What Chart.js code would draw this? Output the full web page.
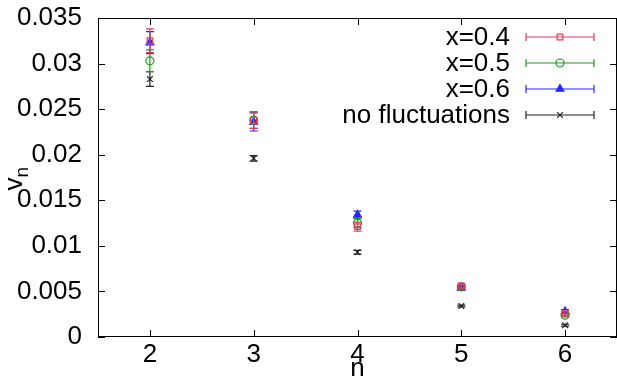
<!DOCTYPE html>
<html>
<head>
<meta charset="utf-8">
<script src="https://cdn.jsdelivr.net/npm/chart.js@4"></script>
<style>
  body { margin: 0; background: #fff; }
  #wrap { width: 617px; height: 380px; }
</style>
</head>
<body>
<div id="wrap"><canvas id="vn"></canvas></div>
<script>
const harmonics = [2, 3, 4, 5, 6];
const yTicks = [0, 0.005, 0.01, 0.015, 0.02, 0.025, 0.03, 0.035];

const x04 = [0.0325, 0.0238, 0.0121, 0.0056, 0.0026];
const x04err = [0.0013, 0.0009, 0.0005, 0.0002, 0.0002];
const x05 = [0.0303, 0.0238, 0.0125, 0.0055, 0.0024];
const x05err = [0.0012, 0.0009, 0.0005, 0.0002, 0.0002];
const x06 = [0.0323, 0.0236, 0.0134, 0.0054, 0.0028];
const x06err = [0.0012, 0.0010, 0.0004, 0.0002, 0.0002];
const noFluct = [0.0283, 0.0196, 0.0093, 0.0034, 0.0013];
const noFluctErr = [0.0008, 0.0003, 0.0002, 0.0001, 0.0001];

const FONT = "'Liberation Sans', Arial, sans-serif";

function points(vals, errs) {
  return harmonics.map((n, i) => ({ x: n, y: vals[i], err: errs[i] }));
}

function series(label, vals, errs, color, style, fill) {
  return {
    label: label,
    data: points(vals, errs),
    borderColor: color,
    backgroundColor: fill ? color : 'rgba(0,0,0,0)',
    pointStyle: style,
    pointRadius: style === 'triangle' ? 4.5 : 4,
    pointBorderWidth: 1.2,
    showLine: false
  };
}

// vertical error bars with caps, drawn just before each dataset's points
const errorBars = {
  id: 'errorBars',
  beforeDatasetDraw(chart, args) {
    const ds = chart.data.datasets[args.index];
    const xs = chart.scales.x, ys = chart.scales.y;
    const ctx = chart.ctx;
    ctx.save();
    ctx.strokeStyle = ds.borderColor;
    ctx.lineWidth = 1.2;
    ds.data.forEach(p => {
      const px = xs.getPixelForValue(p.x);
      const top = ys.getPixelForValue(p.y + p.err);
      const bot = ys.getPixelForValue(p.y - p.err);
      ctx.beginPath();
      ctx.moveTo(px, top); ctx.lineTo(px, bot);
      ctx.moveTo(px - 4, top); ctx.lineTo(px + 4, top);
      ctx.moveTo(px - 4, bot); ctx.lineTo(px + 4, bot);
      ctx.stroke();
    });
    ctx.restore();
  }
};

// gnuplot style frame, inward ticks, axis titles, key
const frame = {
  id: 'frame',
  afterDraw(chart) {
    const ctx = chart.ctx, a = chart.chartArea;
    const xs = chart.scales.x, ys = chart.scales.y;
    ctx.save();
    ctx.strokeStyle = '#000';
    ctx.lineWidth = 1;
    ctx.strokeRect(a.left + 0.5, a.top + 0.5, a.right - a.left - 1, a.bottom - a.top - 1);
    ctx.beginPath();
    harmonics.forEach(n => {
      const px = Math.round(xs.getPixelForValue(n)) + 0.5;
      ctx.moveTo(px, a.bottom); ctx.lineTo(px, a.bottom - 7);
      ctx.moveTo(px, a.top); ctx.lineTo(px, a.top + 7);
    });
    yTicks.forEach(v => {
      const py = Math.round(ys.getPixelForValue(v)) + 0.5;
      ctx.moveTo(a.left, py); ctx.lineTo(a.left + 7, py);
      ctx.moveTo(a.right, py); ctx.lineTo(a.right - 7, py);
    });
    ctx.stroke();

    ctx.fillStyle = '#000';
    // x title
    ctx.font = '26px ' + FONT;
    ctx.textAlign = 'center';
    ctx.textBaseline = 'middle';
    ctx.fillText('n', (a.left + a.right) / 2, 369);

    // y title v_n
    ctx.translate(22, (a.top + a.bottom) / 2);
    ctx.rotate(-Math.PI / 2);
    ctx.textBaseline = 'alphabetic';
    ctx.textAlign = 'left';
    const vw = ctx.measureText('v').width;
    ctx.fillText('v', -vw, 0);
    ctx.font = '19px ' + FONT;
    ctx.fillText('n', 0, 6);
    ctx.restore();

    // key
    ctx.save();
    ctx.font = '26px ' + FONT;
    ctx.textAlign = 'right';
    ctx.textBaseline = 'middle';
    const rows = [37, 63, 89, 115];
    chart.data.datasets.forEach((ds, i) => {
      const y = rows[i];
      ctx.fillStyle = '#000';
      ctx.fillText(ds.label, 510, y + 1);
      ctx.strokeStyle = ds.borderColor;
      ctx.lineWidth = 1.2;
      ctx.beginPath();
      ctx.moveTo(526, y); ctx.lineTo(594, y);
      ctx.moveTo(526, y - 4); ctx.lineTo(526, y + 4);
      ctx.moveTo(594, y - 4); ctx.lineTo(594, y + 4);
      ctx.stroke();
      ctx.fillStyle = ds.backgroundColor;
      Chart.helpers.drawPoint(ctx, {
        pointStyle: ds.pointStyle,
        radius: ds.pointRadius,
        borderWidth: ds.pointBorderWidth
      }, 560, y);
    });
    ctx.restore();
  }
};

new Chart(document.getElementById('vn'), {
  type: 'scatter',
  data: {
    datasets: [
      series('x=0.4', x04, x04err, '#e8385a', 'rect', false),
      series('x=0.5', x05, x05err, '#1c9a1c', 'circle', false),
      series('x=0.6', x06, x06err, '#2626ff', 'triangle', true),
      series('no fluctuations', noFluct, noFluctErr, '#222222', 'crossRot', false)
    ]
  },
  options: {
    responsive: true,
    maintainAspectRatio: false,
    animation: false,
    layout: { autoPadding: false, padding: { top: 18, right: 0, left: 0, bottom: 0 } },
    plugins: {
      legend: { display: false },
      tooltip: { enabled: false }
    },
    scales: {
      x: {
        type: 'linear',
        min: 1.5,
        max: 6.5,
        afterBuildTicks: s => { s.ticks = harmonics.map(v => ({ value: v })); },
        afterFit: s => { s.height = 43; s.paddingLeft = 0; s.paddingRight = 0; },
        grid: { display: false },
        border: { display: false },
        ticks: {
          color: '#000',
          padding: -6,
          font: { family: FONT, size: 26 },
          callback: v => String(v)
        }
      },
      y: {
        min: 0,
        max: 0.035,
        afterBuildTicks: s => { s.ticks = yTicks.map(v => ({ value: v })); },
        afterFit: s => { s.width = 98; s.paddingTop = 0; s.paddingBottom = 0; },
        grid: { display: false },
        border: { display: false },
        ticks: {
          color: '#000',
          padding: 8,
          font: { family: FONT, size: 26 },
          callback: v => String(+v.toFixed(3))
        }
      }
    }
  },
  plugins: [errorBars, frame]
});
</script>
</body>
</html>
